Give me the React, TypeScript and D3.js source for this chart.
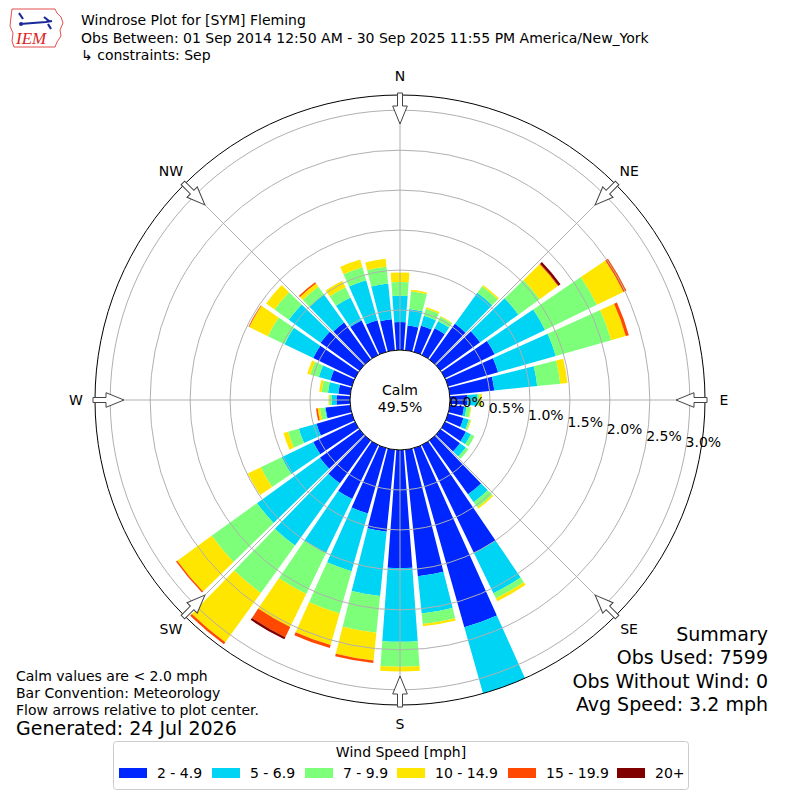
import * as d3 from 'd3'

// wind direction bins (degrees, meteorological convention)
const directions = [
  0, 10, 20, 30, 40, 50, 60, 70, 80, 90, 100, 110, 120, 130, 140, 150, 160, 170,
  180, 190, 200, 210, 220, 230, 240, 250, 260, 270, 280, 290, 300, 310, 320, 330, 340, 350,
]

const speedBins = ['2 - 4.9', '5 - 6.9', '7 - 9.9', '10 - 14.9', '15 - 19.9', '20+']
const speedColors = ['#0026ff', '#00d4f5', '#7dff7a', '#ffe600', '#ff4800', '#800000']

// percent of observations per direction, per speed bin
const speed2to5 = [
  0.35, 0.31, 0.34, 0.37, 0.55, 0.61, 0.69, 0.65, 0.56, 0.22, 0.18, 0.2, 0.29, 0.3, 0.83, 1.5, 2.33, 1.59,
  1.48, 1.03, 0.85, 0.75, 0.66, 0.61, 0.58, 0.46, 0.31, 0.17, 0.15, 0.28, 0.58, 0.6, 0.57, 0.48, 0.41, 0.39,
]
const speed5to7 = [
  0.33, 0.21, 0.13, 0.1, 0.48, 0.59, 0.7, 0.75, 0.54, 0.12, 0.03, 0.07, 0.07, 0.09, 0.12, 0.56, 0.86, 0.47,
  0.92, 0.81, 0.75, 0.75, 0.96, 0.97, 0.44, 0.23, 0.01, 0.06, 0.13, 0.15, 0.4, 0.49, 0.43, 0.32, 0.52, 0.45,
]
const speed7to10 = [
  0.17, 0.22, 0.09, 0.06, 0.1, 0.33, 0.72, 0.72, 0.29, 0.03, 0.05, 0.02, 0.05, 0.04, 0.08, 0.07, 0, 0.13,
  0.31, 0.46, 0.55, 0.57, 0.73, 0.7, 0.29, 0.14, 0.06, 0.03, 0.08, 0.11, 0.23, 0.22, 0.12, 0.14, 0.17, 0.21,
]
const speed10to15 = [
  0.12, 0.02, 0.02, 0.01, 0.02, 0.28, 0.37, 0.19, 0.09, 0.03, 0.01, 0.01, 0, 0, 0.02, 0.04, 0, 0.03,
  0.06, 0.35, 0.41, 0.46, 0.76, 0.53, 0.18, 0.06, 0.03, 0.01, 0.03, 0.04, 0.26, 0.13, 0.05, 0.09, 0.1, 0.1,
]
const speed15to20 = [
  0, 0, 0, 0, 0, 0.01, 0.04, 0.04, 0, 0, 0, 0, 0, 0, 0, 0, 0, 0,
  0, 0.03, 0.04, 0.14, 0.03, 0.02, 0, 0, 0.02, 0, 0, 0, 0.01, 0, 0.02, 0, 0, 0,
]
const speed20plus = [
  0, 0, 0, 0, 0, 0.03, 0, 0, 0, 0, 0, 0, 0, 0, 0, 0, 0, 0,
  0, 0, 0, 0.03, 0, 0, 0, 0, 0, 0, 0, 0, 0, 0, 0, 0, 0, 0,
]

const radialTicks = [0, 0.5, 1.0, 1.5, 2.0, 2.5, 3.0]
const compass = [
  { label: 'N', angle: 0 },
  { label: 'NE', angle: 45 },
  { label: 'E', angle: 90 },
  { label: 'SE', angle: 135 },
  { label: 'S', angle: 180 },
  { label: 'SW', angle: 225 },
  { label: 'W', angle: 270 },
  { label: 'NW', angle: 315 },
]

const titleLines = [
  'Windrose Plot for [SYM] Fleming',
  'Obs Between: 01 Sep 2014 12:50 AM - 30 Sep 2025 11:55 PM America/New_York',
  '\u21b3 constraints: Sep',
]
const footLines = ['Calm values are < 2.0 mph', 'Bar Convention: Meteorology', 'Flow arrows relative to plot center.']
const summaryLines = ['Summary', 'Obs Used: 7599', 'Obs Without Wind: 0', 'Avg Speed: 3.2 mph']
const calmText = ['Calm', '49.5%']

const FONT = '"DejaVu Sans", sans-serif'

export default function App() {
  const cx = 400
  const cy = 400
  const rMax = 3.19
  const r = d3.scaleLinear().domain([0, rMax]).range([50, 305])
  const rad = (deg: number) => (deg * Math.PI) / 180
  const halfWidth = rad(4.2)

  const series = [speed2to5, speed5to7, speed7to10, speed10to15, speed15to20, speed20plus]
  const rows = directions.map((dir, i) => {
    const row: Record<string, number> = { dir }
    speedBins.forEach((bin, k) => (row[bin] = series[k][i]))
    return row
  })
  const stacked = d3.stack<Record<string, number>>().keys(speedBins)(rows)
  const arc = d3.arc<any>()

  const arrowPath =
    'M-2.5,-307 L2.5,-307 L2.5,-294 L7.3,-294 L0,-276 L-7.3,-294 L-2.5,-294 Z'

  const labelAngle = rad(9.8)
  const legendX = [119, 212, 305, 397, 508, 617]

  return (
    <svg width={800} height={800} style={{ position: 'absolute', left: 0, top: 0, background: '#fff' }} fontFamily={FONT}>
      <rect width={800} height={800} fill="#fff" />

      {/* logo */}
      <g>
        <path
          d="M12,9 L55,9 L57,13 L61,17 L63,23 L60,30 L61,36 L57,42 L55,47 L14,47 L12,41 L13,33 L10,26 L11,17 Z"
          fill="none"
          stroke="#d22"
          strokeWidth={0.8}
        />
        <path d="M19,13 L23,19 M20,24 L46,22 M44,17 L49,21 L46,22 L52,21 M48,24 L51,29" stroke="#1a2a9a" strokeWidth={2.2} fill="none" />
        <circle cx={21} cy={24} r={2} fill="#1a2a9a" />
        <text x={16} y={44} fontFamily='"Liberation Serif", serif' fontStyle="italic" fontSize={17} fill="#d22">
          IEM
        </text>
      </g>

      {titleLines.map((t, i) => (
        <text key={t} x={81} y={25 + i * 17.5} fontSize={14}>
          {t}
        </text>
      ))}

      <g transform={`translate(${cx},${cy})`}>
        {stacked.map((layer, k) =>
          layer.map((d, i) =>
            d[1] - d[0] > 0 ? (
              <path
                key={`${k}-${i}`}
                d={
                  arc({
                    innerRadius: r(d[0]),
                    outerRadius: r(d[1]),
                    startAngle: rad(directions[i]) - halfWidth,
                    endAngle: rad(directions[i]) + halfWidth,
                  }) ?? ''
                }
                fill={speedColors[k]}
              />
            ) : null,
          ),
        )}

        {radialTicks.slice(1).map((t) => (
          <circle key={`ring-${t}`} r={r(t)} fill="none" stroke="#b0b0b0" strokeWidth={1} />
        ))}
        {compass.map((c) => (
          <line
            key={`spoke-${c.label}`}
            x1={r(0) * Math.sin(rad(c.angle))}
            y1={-r(0) * Math.cos(rad(c.angle))}
            x2={r(rMax) * Math.sin(rad(c.angle))}
            y2={-r(rMax) * Math.cos(rad(c.angle))}
            stroke="#b0b0b0"
            strokeWidth={1}
          />
        ))}

        <circle r={r(0)} fill="#fff" stroke="#000" strokeWidth={1} />
        <circle r={r(rMax)} fill="none" stroke="#000" strokeWidth={1} />

        {compass.map((c) => (
          <path key={`arrow-${c.label}`} d={arrowPath} transform={`rotate(${c.angle})`} fill="#fff" stroke="#444" strokeWidth={1} />
        ))}

        {compass.map((c) => (
          <text
            key={`lab-${c.label}`}
            x={324 * Math.sin(rad(c.angle))}
            y={-324 * Math.cos(rad(c.angle)) + 5}
            textAnchor="middle"
            fontSize={14}
          >
            {c.label}
          </text>
        ))}

        {radialTicks.map((t) => (
          <text
            key={`tick-${t}`}
            x={r(t) * Math.cos(labelAngle)}
            y={r(t) * Math.sin(labelAngle) - 2}
            fontSize={14}
          >
            {`${t.toFixed(1)}%`}
          </text>
        ))}

        <text x={0} y={-5} textAnchor="middle" fontSize={14}>
          {calmText[0]}
        </text>
        <text x={0} y={12} textAnchor="middle" fontSize={14}>
          {calmText[1]}
        </text>
      </g>

      {footLines.map((t, i) => (
        <text key={t} x={16} y={681 + i * 17} fontSize={14}>
          {t}
        </text>
      ))}
      <text x={16} y={735} fontSize={19}>
        Generated: 24 Jul 2026
      </text>

      {summaryLines.map((t, i) => (
        <text key={t} x={768} y={641 + i * 23.3} textAnchor="end" fontSize={19}>
          {t}
        </text>
      ))}

      <g>
        <rect x={113.5} y={741.5} width={575} height={48} rx={3} fill="#fff" stroke="#cccccc" strokeWidth={1} />
        <text x={401} y={757} textAnchor="middle" fontSize={14}>
          Wind Speed [mph]
        </text>
        {speedBins.map((bin, k) => (
          <g key={bin}>
            <rect x={legendX[k]} y={768} width={28} height={10} fill={speedColors[k]} />
            <text x={legendX[k] + 38} y={778} fontSize={14}>
              {bin}
            </text>
          </g>
        ))}
      </g>
    </svg>
  )
}
